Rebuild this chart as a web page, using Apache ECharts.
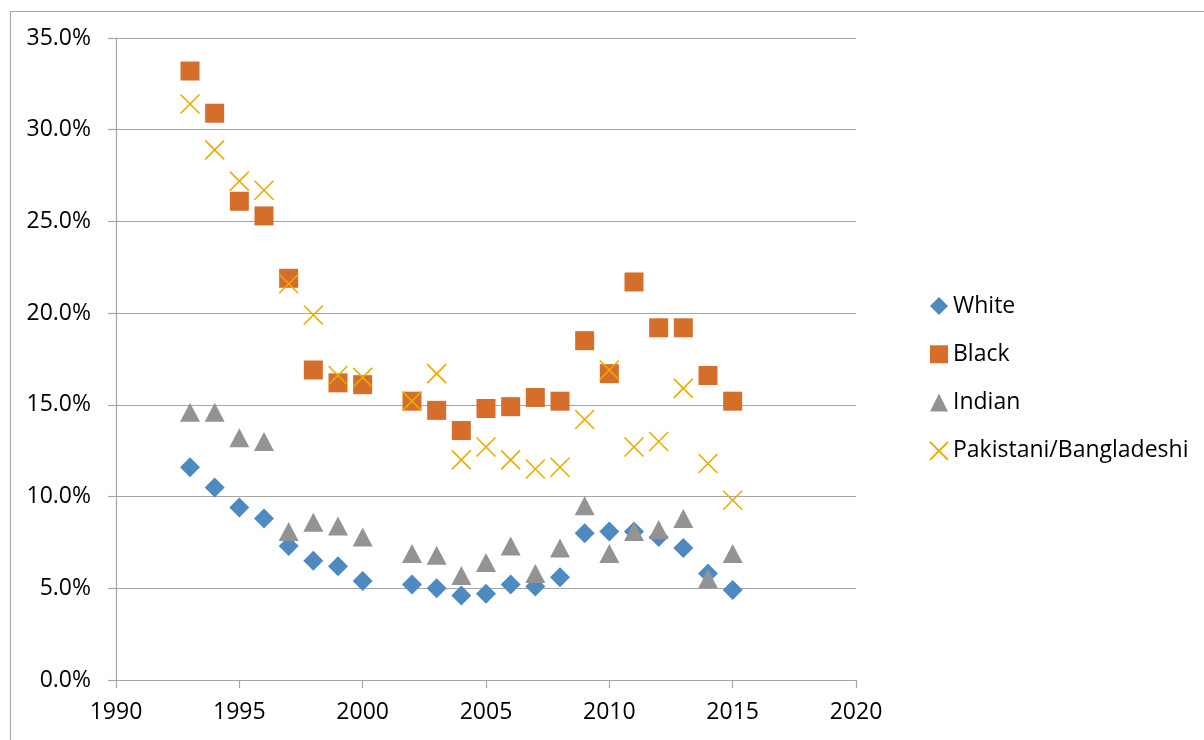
<!DOCTYPE html>
<html>
<head>
<meta charset="utf-8">
<title>Rates by ethnic group, 1993–2015</title>
<script src="https://cdn.jsdelivr.net/npm/echarts@6/dist/echarts.min.js"></script>
<style>
  html, body { margin: 0; padding: 0; background: #ffffff; }
  #chart { width: 1204px; height: 740px; }
</style>
</head>
<body>
<div id="chart"></div>
<script>
// Survey years (no 2001 observation)
const years = [1993, 1994, 1995, 1996, 1997, 1998, 1999, 2000, 2002, 2003, 2004,
               2005, 2006, 2007, 2008, 2009, 2010, 2011, 2012, 2013, 2014, 2015];

// Rates in percent, one value per year above
const white     = [11.6, 10.5, 9.4, 8.8, 7.3, 6.5, 6.2, 5.4, 5.2, 5.0, 4.6,
                   4.7, 5.2, 5.1, 5.6, 8.0, 8.1, 8.1, 7.8, 7.2, 5.8, 4.9];
const black     = [33.2, 30.9, 26.1, 25.3, 21.9, 16.9, 16.2, 16.1, 15.2, 14.7, 13.6,
                   14.8, 14.9, 15.4, 15.2, 18.5, 16.7, 21.7, 19.2, 19.2, 16.6, 15.2];
const indian    = [14.6, 14.6, 13.2, 13.0, 8.1, 8.6, 8.4, 7.8, 6.9, 6.8, 5.7,
                   6.4, 7.3, 5.8, 7.2, 9.5, 6.9, 8.1, 8.2, 8.8, 5.5, 6.9];
const pakBangla = [31.4, 28.9, 27.2, 26.7, 21.6, 19.9, 16.6, 16.5, 15.2, 16.7, 12.0,
                   12.7, 12.0, 11.5, 11.6, 14.2, 16.9, 12.7, 13.0, 15.9, 11.8, 9.8];

const seriesNames = ['White', 'Black', 'Indian', 'Pakistani/Bangladeshi'];

const pairs = vals => years.map((y, i) => [y, vals[i]]);

const FONT = '"Open Sans", "Liberation Sans", sans-serif';
const GRID_GRAY = '#A6A6A6';

const chart = echarts.init(document.getElementById('chart'), null, { renderer: 'canvas' });

chart.setOption({
  backgroundColor: '#ffffff',
  animation: false,
  textStyle: { fontFamily: FONT },
  graphic: [{
    type: 'rect',
    left: 8, top: 9,
    shape: { x: 0.5, y: 0.5, width: 1300, height: 900 },
    style: { fill: 'none', stroke: '#A9A9A9', lineWidth: 1.2 },
    silent: true,
    z: -1
  }],
  grid: { left: 116, right: 348, top: 38, bottom: 60, containLabel: false },
  legend: {
    orient: 'vertical',
    left: 924,
    top: 289,
    itemWidth: 18,
    itemHeight: 18,
    itemGap: 24.3,
    textStyle: { fontFamily: FONT, fontSize: 23, color: '#000000', lineHeight: 24 },
    data: seriesNames
  },
  xAxis: {
    type: 'value',
    min: 1990, max: 2020, interval: 5,
    axisLine: { show: true, lineStyle: { color: GRID_GRAY, width: 1.2 } },
    axisTick: { show: true, length: 8, lineStyle: { color: GRID_GRAY, width: 1.2 } },
    axisLabel: {
      margin: 21, fontSize: 23, color: '#000000', fontFamily: FONT,
      formatter: v => String(v)
    },
    splitLine: { show: false }
  },
  yAxis: {
    type: 'value',
    min: 0, max: 35, interval: 5,
    axisLine: { show: true, lineStyle: { color: GRID_GRAY, width: 1.2 } },
    axisTick: { show: true, length: 8, lineStyle: { color: GRID_GRAY, width: 1.2 } },
    axisLabel: {
      margin: 25, fontSize: 23, color: '#000000', fontFamily: FONT,
      formatter: v => v.toFixed(1) + '%'
    },
    splitLine: { show: true, lineStyle: { color: GRID_GRAY, width: 1.2 } }
  },
  series: [
    {
      name: 'White', type: 'scatter', data: pairs(white),
      symbol: 'diamond', symbolSize: 20,
      itemStyle: { color: '#4E8AC0', opacity: 1 }
    },
    {
      name: 'Black', type: 'scatter', data: pairs(black),
      symbol: 'rect', symbolSize: 19,
      itemStyle: { color: '#D56D2B', opacity: 1 }
    },
    {
      name: 'Indian', type: 'scatter', data: pairs(indian),
      symbol: 'triangle', symbolSize: [20, 19],
      itemStyle: { color: '#939393', opacity: 1 }
    },
    {
      name: 'Pakistani/Bangladeshi', type: 'scatter', data: pairs(pakBangla),
      symbol: 'path://M0,0L10,10M10,0L0,10', symbolSize: 19,
      itemStyle: { color: 'rgba(0,0,0,0)', borderColor: '#E8AC00', borderWidth: 1.6, opacity: 1 }
    }
  ]
});
</script>
</body>
</html>
